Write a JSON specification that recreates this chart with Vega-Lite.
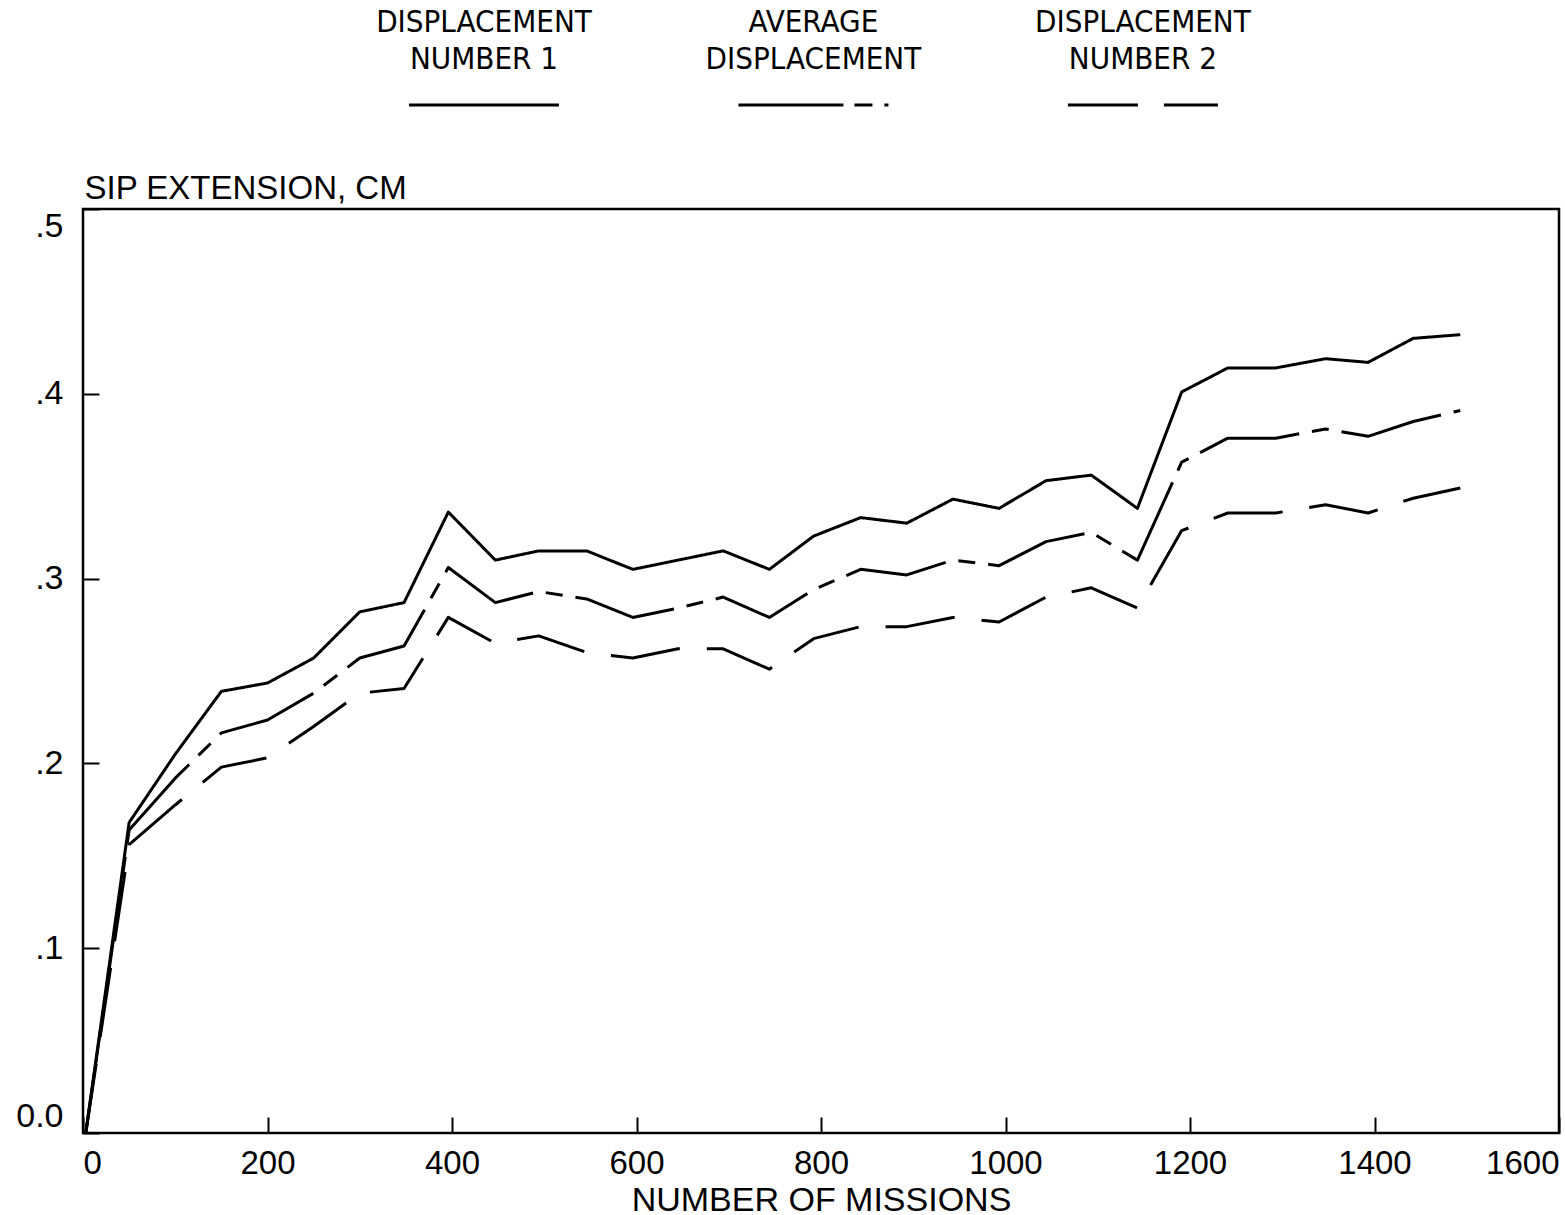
{
  "$schema": "https://vega.github.io/schema/vega-lite/v6.json",
  "background": "white",
  "padding": {"left": 14, "top": 7, "right": 5, "bottom": 2},
  "bounds": "flush",
  "spacing": 104,
  "resolve": {"scale": {"strokeDash": "independent", "x": "independent", "y": "independent"}},
  "config": {
    "font": "Liberation Sans",
    "axis": {"labelColor": "black", "titleColor": "black", "tickColor": "black", "titleFontWeight": "normal", "grid": false, "domain": false}
  },
  "vconcat": [
    {
      "width": 1476,
      "height": 94,
      "view": {"stroke": null},
      "data": {"values": [
        {"col": 0, "key": "d1", "label": "DISPLACEMENT\nNUMBER 1"},
        {"col": 1, "key": "avg", "label": "AVERAGE\nDISPLACEMENT"},
        {"col": 2, "key": "d2", "label": "DISPLACEMENT\nNUMBER 2"}
      ]},
      "layer": [
        {
          "mark": {"type": "text", "baseline": "top", "align": "center", "lineBreak": "\n", "fontSize": 31, "lineHeight": 37, "dy": -3, "font": "Liberation Sans Narrow, DejaVu Sans Condensed, Liberation Sans", "color": "black"},
          "encoding": {
            "x": {"field": "col", "type": "quantitative", "scale": {"domain": [-1.217, 3.263], "nice": false, "zero": false}, "axis": null},
            "y": {"datum": 1, "type": "quantitative", "scale": {"domain": [0, 1], "nice": false}, "axis": null},
            "text": {"field": "label"}
          }
        },
        {
          "mark": {"type": "rule", "xOffset": -75, "x2Offset": 75, "strokeWidth": 3, "color": "black"},
          "encoding": {
            "x": {"field": "col", "type": "quantitative"},
            "x2": {"field": "col"},
            "y": {"datum": 0, "type": "quantitative"},
            "strokeDash": {"field": "key", "type": "nominal", "scale": {"domain": ["d1", "avg", "d2"], "range": [[1, 0], [105, 11, 18, 12, 5, 100], [70, 26, 54, 30]]}, "legend": null}
          }
        }
      ]
    },
    {
      "width": 1476,
      "height": 924,
      "view": {"stroke": "black", "strokeWidth": 2.5},
      "data": {"values": [
        {"missions": 3, "d1": 0, "avg": 0, "d2": 0},
        {"missions": 50, "d1": 0.168, "avg": 0.164, "d2": 0.156},
        {"missions": 100, "d1": 0.205, "avg": 0.192, "d2": 0.1775},
        {"missions": 150, "d1": 0.239, "avg": 0.2165, "d2": 0.198},
        {"missions": 200, "d1": 0.2435, "avg": 0.2235, "d2": 0.203},
        {"missions": 250, "d1": 0.257, "avg": 0.238, "d2": 0.22},
        {"missions": 300, "d1": 0.282, "avg": 0.257, "d2": 0.238},
        {"missions": 348, "d1": 0.287, "avg": 0.2635, "d2": 0.2405},
        {"missions": 396, "d1": 0.336, "avg": 0.306, "d2": 0.279},
        {"missions": 447, "d1": 0.31, "avg": 0.287, "d2": 0.265},
        {"missions": 494, "d1": 0.315, "avg": 0.293, "d2": 0.269},
        {"missions": 546, "d1": 0.315, "avg": 0.289, "d2": 0.26},
        {"missions": 596, "d1": 0.305, "avg": 0.279, "d2": 0.257},
        {"missions": 645, "d1": 0.31, "avg": 0.284, "d2": 0.262},
        {"missions": 694, "d1": 0.315, "avg": 0.29, "d2": 0.262},
        {"missions": 744, "d1": 0.305, "avg": 0.279, "d2": 0.251},
        {"missions": 792, "d1": 0.323, "avg": 0.294, "d2": 0.2675},
        {"missions": 843, "d1": 0.333, "avg": 0.305, "d2": 0.274},
        {"missions": 893, "d1": 0.33, "avg": 0.302, "d2": 0.274},
        {"missions": 943, "d1": 0.343, "avg": 0.31, "d2": 0.279},
        {"missions": 993, "d1": 0.338, "avg": 0.307, "d2": 0.2765},
        {"missions": 1044, "d1": 0.353, "avg": 0.32, "d2": 0.29},
        {"missions": 1093, "d1": 0.356, "avg": 0.325, "d2": 0.295},
        {"missions": 1143, "d1": 0.338, "avg": 0.31, "d2": 0.284},
        {"missions": 1191, "d1": 0.401, "avg": 0.363, "d2": 0.326},
        {"missions": 1241, "d1": 0.414, "avg": 0.376, "d2": 0.3355},
        {"missions": 1293, "d1": 0.414, "avg": 0.376, "d2": 0.3355},
        {"missions": 1347, "d1": 0.419, "avg": 0.381, "d2": 0.34},
        {"missions": 1393, "d1": 0.417, "avg": 0.377, "d2": 0.3355},
        {"missions": 1442, "d1": 0.43, "avg": 0.385, "d2": 0.3435},
        {"missions": 1493, "d1": 0.432, "avg": 0.391, "d2": 0.349}
      ]},
      "transform": [{"fold": ["d1", "avg", "d2"], "as": ["key", "ext"]}],
      "mark": {"type": "line", "strokeWidth": 3, "color": "black", "strokeJoin": "round"},
      "encoding": {
        "x": {
          "field": "missions", "type": "quantitative",
          "scale": {"domain": [0, 1600], "nice": false, "zero": false},
          "axis": {
            "title": "NUMBER OF MISSIONS", "titleFontSize": 34, "titlePadding": 3,
            "values": [0, 200, 400, 600, 800, 1000, 1200, 1400, 1600], "format": "d",
            "labelFontSize": 33, "labelFlush": true, "labelPadding": 30,
            "tickSize": -16, "tickWidth": 2
          }
        },
        "y": {
          "field": "ext", "type": "quantitative",
          "scale": {"domain": [0, 0.5], "nice": false},
          "axis": {
            "title": "SIP EXTENSION, CM", "titleFontSize": 33, "titleAngle": 0, "titleAlign": "left", "titleBaseline": "alphabetic", "titleX": 1, "titleY": -11,
            "values": [0, 0.1, 0.2, 0.3, 0.4, 0.5],
            "labelExpr": "datum.value == 0 ? '0.0' : substring(format(datum.value, '.1f'), 1)",
            "labelFontSize": 34, "labelFlush": true, "labelPadding": 36,
            "tickSize": -16, "tickWidth": 2
          }
        },
        "strokeDash": {"field": "key", "type": "nominal", "scale": {"domain": ["d1", "avg", "d2"], "range": [[1, 0], [103, 13, 17, 13], [70, 27]]}, "legend": null}
      }
    }
  ]
}
